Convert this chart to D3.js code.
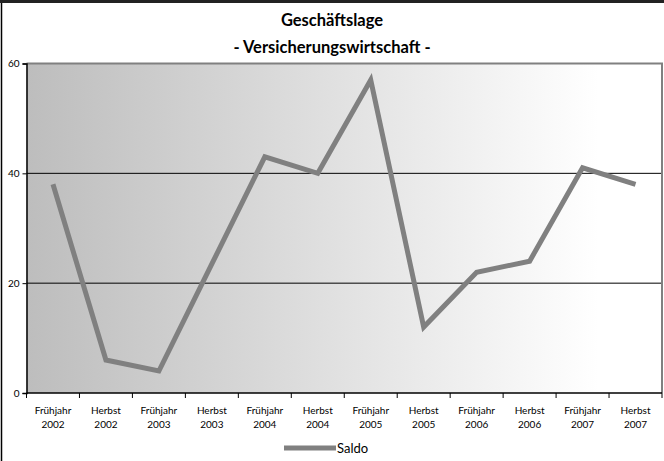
<!DOCTYPE html>
<html><head><meta charset="utf-8">
<script src="https://cdn.jsdelivr.net/npm/d3@7"></script>
<style>body{margin:0;background:#fff}svg{display:block}</style>
</head><body>
<script>
const seasons = ["Frühjahr","Herbst","Frühjahr","Herbst","Frühjahr","Herbst","Frühjahr","Herbst","Frühjahr","Herbst","Frühjahr","Herbst"];
const years = ["2002","2002","2003","2003","2004","2004","2005","2005","2006","2006","2007","2007"];
const saldo = [38, 6, 4, 23.5, 43, 40, 57, 12, 22, 24, 41, 38];
const yTicks = [0, 20, 40, 60];
const title1 = "Geschäftslage";
const title2 = "- Versicherungswirtschaft -";
const seriesName = "Saldo";

const W = 664, H = 461;
const m = {l: 26.5, r: 2, t: 63.5, b: 68};
const svg = d3.select("body").append("svg").attr("width", W).attr("height", H);
const font = "Lato, 'Open Sans', sans-serif";

// outer frame (left & top)
svg.append("line").attr("x1",1.5).attr("x2",1.5).attr("y1",0).attr("y2",H).attr("stroke","#000").attr("stroke-width",1.5);
svg.append("line").attr("x1",0).attr("x2",W).attr("y1",1.5).attr("y2",1.5).attr("stroke","#222").attr("stroke-width",3);

const x = d3.scaleBand().domain(d3.range(saldo.length)).range([m.l, W - m.r]);
const y = d3.scaleLinear().domain([0, 60]).range([H - m.b, m.t]);

const defs = svg.append("defs");
const g = defs.append("linearGradient").attr("id","bg").attr("x1","0").attr("x2","1").attr("y1","0").attr("y2","0");
g.append("stop").attr("offset","0").attr("stop-color","#bdbdbd");
g.append("stop").attr("offset","0.9").attr("stop-color","#ffffff");
g.append("stop").attr("offset","1").attr("stop-color","#ffffff");

svg.append("rect").attr("x", m.l).attr("y", y(60)).attr("width", W - m.r - m.l).attr("height", y(0) - y(60)).attr("fill","url(#bg)");

// gridlines
svg.append("g").selectAll("line").data(yTicks.filter(d => d > 0 && d < 60)).join("line")
  .attr("x1", m.l).attr("x2", W - m.r).attr("y1", d => y(d)).attr("y2", d => y(d))
  .attr("stroke","#000").attr("stroke-width",1);

// plot border top/right gray
svg.append("line").attr("x1", m.l).attr("x2", W - m.r + 1).attr("y1", y(60)).attr("y2", y(60)).attr("stroke","#808080").attr("stroke-width",2);
svg.append("line").attr("x1", W - m.r + 0).attr("x2", W - m.r + 0).attr("y1", y(60)).attr("y2", y(0)).attr("stroke","#808080").attr("stroke-width",2);

// y axis
const yAxis = svg.append("g").attr("transform", `translate(${m.l},0)`)
  .call(d3.axisLeft(y).tickValues(yTicks).tickSize(4).tickPadding(3).tickFormat(d3.format("d")));
yAxis.select(".domain").attr("stroke","#000").attr("stroke-width",1.5);
yAxis.selectAll("text").attr("font-family", font).attr("font-size", 10).attr("fill","#000");

// x axis
const xAxis = svg.append("g").attr("transform", `translate(0,${y(0)})`);
xAxis.append("line").attr("x1", m.l).attr("x2", W - m.r).attr("y1",0).attr("y2",0).attr("stroke","#000").attr("stroke-width",1.5);
const bounds = d3.range(saldo.length + 1).map(i => i < saldo.length ? x(i) : x(saldo.length - 1) + x.bandwidth());
xAxis.selectAll("line.tk").data(bounds).join("line").attr("class","tk")
  .attr("x1", d => d).attr("x2", d => d).attr("y1", 0).attr("y2", 5).attr("stroke","#000");
const lab = xAxis.selectAll("text").data(saldo.map((d,i)=>i)).join("text")
  .attr("x", i => x(i) + x.bandwidth()/2).attr("text-anchor","middle")
  .attr("font-family", font).attr("font-size", 10).attr("fill","#000");
lab.append("tspan").attr("x", i => x(i) + x.bandwidth()/2).attr("y", 21).text(i => seasons[i]);
lab.append("tspan").attr("x", i => x(i) + x.bandwidth()/2).attr("y", 35).text(i => years[i]);

// line
const line = d3.line().x((d,i) => x(i) + x.bandwidth()/2).y(d => y(d));
svg.append("path").datum(saldo).attr("d", line).attr("fill","none")
  .attr("stroke","#808080").attr("stroke-width",5).attr("stroke-linejoin","miter");

// title
svg.append("text").attr("x", 332).attr("y", 26).attr("text-anchor","middle")
  .attr("font-family", font).attr("font-weight","bold").attr("font-size", 16.5).text(title1);
svg.append("text").attr("x", 332).attr("y", 53).attr("text-anchor","middle")
  .attr("font-family", font).attr("font-weight","bold").attr("font-size", 16.5).text(title2);

// legend
svg.append("line").attr("x1", 284).attr("x2", 336).attr("y1", 448).attr("y2", 448)
  .attr("stroke","#808080").attr("stroke-width",5);
svg.append("text").attr("x", 337).attr("y", 453).attr("font-family", font).attr("font-size", 13).text(seriesName);
</script>
</body></html>
